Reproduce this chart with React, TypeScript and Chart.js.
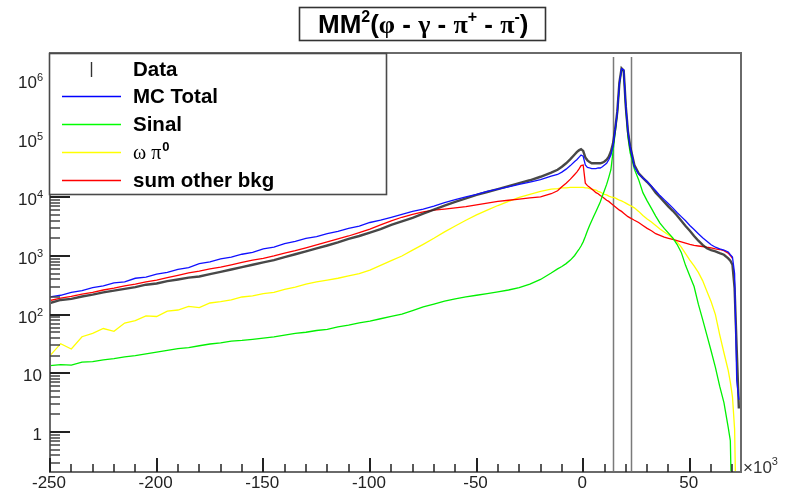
import React, { useEffect, useRef } from "react";
import { Chart, registerables } from "chart.js";

Chart.register(...registerables);

// bin centres (x 10^3)
const xBins: number[] = [
  -250, -245, -240, -235, -230, -225, -220, -215, -210, -205,
  -200, -195, -190, -185, -180, -175, -170, -165, -160, -155,
  -150, -145, -140, -135, -130, -125, -120, -115, -110, -105,
  -100, -95, -90, -85, -80, -75, -70, -65, -60, -55,
  -50, -45, -40, -35, -30, -25, -20, -15,
  -12, -10, -8, -6, -4, -3, -2, -1,
  0, 1, 2, 3, 4, 5, 6, 7, 8, 9,
  10, 11, 12, 13, 14, 15, 16, 17, 18, 19,
  20, 21, 22, 23, 24,
  26, 28, 30, 32, 34, 36, 38, 40, 42, 44,
  46, 48, 50, 52, 54, 56, 58, 60, 62, 64,
  66, 68,
  69, 70, 71, 72, 73,
];

const mcTotal: (number | null)[] = [
  200, 214, 240, 257, 288, 309, 347, 363, 417, 437,
  490, 525, 589, 631, 741, 794, 891, 955, 1070, 1150,
  1320, 1410, 1620, 1780, 2000, 2140, 2400, 2630, 2950, 3240,
  3720, 4070, 4570, 5130, 5750, 6310, 7080, 8130, 9120, 10200,
  11200, 12600, 13800, 15100, 16600, 18200, 20000, 22900,
  24500, 26900, 30200, 34700, 40700, 43700, 47900, 52500,
  50100, 35500, 32400, 31600, 30900, 30900, 30900, 31600, 31600, 33100,
  35500, 38000, 43700, 52500, 75900, 141000, 282000, 891000, 1550000, 1480000,
  355000, 132000, 72400, 50100, 33100,
  25100, 21400, 18600, 15500, 12900, 10700, 9120, 7760, 6610, 5500,
  4680, 3980, 3310, 2820, 2400, 2040, 1780, 1550, 1410, 1320,
  1260, 1170,
  1050, 955, 501, 7.59, 3.55,
];

const dataCounts: (number | null)[] = [
  158, 178, 186, 204, 219, 240, 257, 275, 295, 324,
  339, 372, 398, 427, 447, 490, 537, 589, 646, 708,
  776, 851, 955, 1070, 1200, 1350, 1510, 1700, 1950, 2190,
  2510, 2880, 3390, 3890, 4470, 5250, 6170, 7240, 8320, 9550,
  11000, 12300, 13800, 15500, 17400, 19500, 22400, 26300,
  29500, 33100, 38000, 44700, 53700, 58900, 63100, 66100,
  61700, 47900, 42700, 39800, 38000, 38000, 38000, 38000, 38000, 38900,
  40700, 43700, 49000, 60300, 83200, 145000, 288000, 912000, 1580000, 1450000,
  347000, 132000, 74100, 51300, 35500,
  25700, 21400, 18200, 15100, 12000, 10000, 8320, 6920, 5890, 4900,
  3980, 3240, 2690, 2190, 1820, 1550, 1350, 1260, 1200, 1120,
  1050, 912,
  832, 708, 282, 25.1, 2.51,
];

const sinal: (number | null)[] = [
  13.5, 14.1, 13.8, 15.5, 15.8, 17.0, 17.8, 19.1, 20.0, 21.4,
  22.9, 24.5, 26.3, 27.5, 29.5, 31.6, 33.1, 35.5, 36.3, 38.0,
  39.8, 41.7, 44.7, 47.9, 50.1, 53.7, 56.2, 61.7, 66.1, 72.4,
  77.6, 85.1, 93.3, 102, 117, 135, 151, 170, 186, 200,
  214, 229, 245, 263, 288, 331, 398, 513,
  603, 661, 741, 851, 1020, 1150, 1290, 1480,
  1740, 2140, 2690, 3310, 3980, 4790, 5750, 6920, 8320, 10500,
  13200, 16600, 21900, 29500, 60300, 126000, 263000, 851000, 1510000, 1410000,
  316000, 105000, 57500, 41700, 30200,
  20000, 12000, 8710, 6460, 4790, 3630, 2950, 2450, 2040, 1580,
  1150, 692, 457, 302, 151, 83.2, 44.7, 24.0, 12.6, 6.03,
  3.16, 1.2,
  0.71, 0.01, null, null, null,
];

const omegaPi0: (number | null)[] = [
  20, 32, 26, 42, 48, 58, 52, 72, 79, 95,
  93, 115, 120, 138, 132, 158, 166, 178, 200, 209,
  229, 240, 269, 295, 331, 363, 389, 417, 457, 501,
  575, 692, 832, 1000, 1260, 1580, 2000, 2570, 3240, 4070,
  5010, 6030, 7240, 8510, 10000, 11200, 12600, 13800,
  14100, 14500, 14500, 14800, 14800, 14800, 14800, 14800,
  14800, 14500, 14500, 14100, 13800, 13500, 13200, 12600, 12300, 11700,
  11200, 11000, 10500, 10200, 10000, 9770, 9330, 8910, 8710, 8320,
  7940, 7590, 7240, 6920, 6610,
  5750, 4900, 4270, 3800, 3310, 2880, 2570, 2290, 2000, 1740,
  1410, 1100, 851, 676, 525, 380, 251, 166, 100, 45.7,
  22.4, 11.2,
  7.08, 3.98, 1.12, 0.01, null,
];

const otherBkg: (number | null)[] = [
  174, 191, 204, 224, 240, 263, 282, 309, 331, 363,
  389, 427, 468, 513, 550, 603, 646, 708, 776, 851,
  912, 1000, 1120, 1230, 1380, 1550, 1740, 1950, 2190, 2510,
  2880, 3390, 3980, 4570, 5130, 5620, 6030, 6310, 6610, 6920,
  7410, 7940, 8510, 8910, 9330, 9770, 10200, 11500,
  12900, 15100, 17400, 20400, 24500, 26900, 30200, 34700,
  35500, 17400, 15800, 14800, 13800, 12900, 12000, 11500, 10700, 10200,
  9550, 8910, 8510, 7940, 7410, 6920, 6460, 6030, 5750, 5370,
  5010, 4680, 4470, 4270, 4070,
  3720, 3310, 2950, 2690, 2400, 2240, 2090, 2000, 1910, 1820,
  1740, 1660, 1580, 1510, 1480, 1450, 1410, 1380, 1320, 1290,
  1230, 1120,
  1020, 912, null, null, null,
];

const cutLines: number[] = [13.9, 22.3];

const xMin = -250;
const xMax = 74;
const yMin = 0.208;
const yMax = 2.88e6;

const xTickValues: number[] = [-250, -200, -150, -100, -50, 0, 50];
const xTickLabels: string[] = ["-250", "-200", "-150", "-100", "-50", "0", "50"];
const yTickValues: number[] = [1, 10, 100, 1000, 10000, 100000, 1000000];
const yTickBase: string[] = ["1", "10", "10", "10", "10", "10", "10"];
const yTickSup: string[] = ["", "", "2", "3", "4", "5", "6"];

const legendLabels: string[] = ["Data", "MC Total", "Sinal", "ω π", "sum other bkg"];
const legendColors: string[] = ["#333333", "#0000ff", "#00ff00", "#ffff00", "#ff0000"];

const SANS = '"Liberation Sans", Arial, Helvetica, sans-serif';
const SERIF = '"Liberation Serif", "DejaVu Serif", "Times New Roman", serif';

function toPoints(vals: (number | null)[]) {
  return xBins.map((x, i) => ({ x, y: vals[i] }));
}

const rootPlugin = {
  id: "rootStyle",
  beforeDatasetsDraw(chart: any) {
    const { ctx, chartArea: a, scales } = chart;
    const xs = scales.x;
    ctx.save();
    ctx.strokeStyle = "#7a7a7a";
    ctx.lineWidth = 1.5;
    for (const v of cutLines) {
      const px = Math.round(xs.getPixelForValue(v)) + 0.5;
      ctx.beginPath();
      ctx.moveTo(px, a.top + 4);
      ctx.lineTo(px, a.bottom);
      ctx.stroke();
    }
    ctx.restore();
  },
  afterDraw(chart: any) {
    const { ctx, chartArea: a, scales } = chart;
    const xs = scales.x;
    const ys = scales.y;
    ctx.save();

    // frame
    ctx.strokeStyle = "#6a6a6a";
    ctx.lineWidth = 2;
    ctx.strokeRect(a.left, a.top, a.right - a.left, a.bottom - a.top);

    // y ticks (major decades + minor)
    for (let d = -1; d <= 6; d++) {
      for (let m = 1; m <= 9; m++) {
        const v = m * Math.pow(10, d);
        if (v < ys.min || v > ys.max) continue;
        const py = Math.round(ys.getPixelForValue(v));
        const major = m === 1;
        ctx.strokeStyle = major ? "#222" : "#444";
        ctx.lineWidth = major ? 2 : 1.5;
        ctx.beginPath();
        ctx.moveTo(a.left, py);
        ctx.lineTo(a.left + (major ? 20 : 10), py);
        ctx.stroke();
      }
    }
    // x ticks
    for (let t = -250; t <= 70; t += 10) {
      const px = Math.round(xs.getPixelForValue(t));
      const major = t % 50 === 0;
      ctx.strokeStyle = "#222";
      ctx.lineWidth = major ? 2 : 1.5;
      ctx.beginPath();
      ctx.moveTo(px, a.bottom);
      ctx.lineTo(px, a.bottom - (major ? 14 : 8));
      ctx.stroke();
    }

    // x labels
    ctx.fillStyle = "#222";
    ctx.font = `17px ${SANS}`;
    ctx.textAlign = "center";
    ctx.textBaseline = "alphabetic";
    xTickValues.forEach((v, i) => {
      ctx.fillText(xTickLabels[i], xs.getPixelForValue(v) - 1, a.bottom + 16);
    });
    // x10^3
    ctx.textAlign = "left";
    ctx.font = `17px ${SANS}`;
    ctx.fillStyle = "#333";
    ctx.fillText("×10", a.right + 2, a.bottom + 1);
    const wx = ctx.measureText("×10").width;
    ctx.font = `11px ${SANS}`;
    ctx.fillText("3", a.right + 2 + wx, a.bottom - 7);

    // y labels
    ctx.fillStyle = "#222";
    ctx.textAlign = "right";
    const rightEdge = 43;
    yTickValues.forEach((v, i) => {
      const py = ys.getPixelForValue(v);
      const sup = yTickSup[i];
      if (sup) {
        ctx.font = `11px ${SANS}`;
        ctx.fillText(sup, rightEdge, py + 1);
        const w = ctx.measureText(sup).width;
        ctx.font = `17px ${SANS}`;
        ctx.fillText(yTickBase[i], rightEdge - w, py + 8);
      } else {
        ctx.font = `17px ${SANS}`;
        ctx.fillText(yTickBase[i], rightEdge - 1, py + 8);
      }
    });

    // legend
    const lx = a.left - 1;
    const ly = a.top;
    const lw = 337;
    const lh = 141;
    ctx.fillStyle = "#ffffff";
    ctx.fillRect(lx, ly, lw, lh);
    ctx.strokeStyle = "#4a4a4a";
    ctx.lineWidth = 1.6;
    ctx.strokeRect(lx + 0.5, ly + 0.5, lw, lh);
    const rows = [69, 96, 124, 152, 180];
    ctx.textAlign = "left";
    legendLabels.forEach((label, i) => {
      const cy = rows[i];
      ctx.strokeStyle = legendColors[i];
      ctx.lineWidth = 1.4;
      ctx.beginPath();
      if (i === 0) {
        ctx.moveTo(lx + 42.5, cy - 7);
        ctx.lineTo(lx + 42.5, cy + 8);
      } else {
        ctx.moveTo(lx + 13, cy + 0.5);
        ctx.lineTo(lx + 72, cy + 0.5);
      }
      ctx.stroke();
      ctx.fillStyle = "#000";
      const tx = lx + 84;
      const by = cy + 7;
      if (i === 3) {
        ctx.font = `20px ${SERIF}`;
        ctx.fillText(label, tx, by);
        const w = ctx.measureText(label).width;
        ctx.font = `bold 13px ${SANS}`;
        ctx.fillText("0", tx + w + 1, by - 8);
      } else {
        ctx.font = `bold 20.5px ${SANS}`;
        ctx.fillText(label, tx, by);
      }
    });

    // title box
    const bx = 299, by0 = 7, bw = 246, bh = 33;
    ctx.fillStyle = "#ffffff";
    ctx.fillRect(bx, by0, bw, bh);
    ctx.strokeStyle = "#333";
    ctx.lineWidth = 1.6;
    ctx.strokeRect(bx + 0.5, by0 + 0.5, bw, bh);
    const parts: { t: string; f: string; sup?: boolean }[] = [
      { t: "MM", f: SANS },
      { t: "2", f: SANS, sup: true },
      { t: "(", f: SANS },
      { t: "φ", f: SERIF },
      { t: " - ", f: SANS },
      { t: "γ", f: SERIF },
      { t: " - ", f: SANS },
      { t: "π", f: SERIF },
      { t: "+", f: SANS, sup: true },
      { t: " - ", f: SANS },
      { t: "π", f: SERIF },
      { t: "-", f: SANS, sup: true },
      { t: ")", f: SANS },
    ];
    const base = 33;
    let cx = 318;
    ctx.fillStyle = "#000";
    for (const p of parts) {
      ctx.font = p.sup ? `bold 16px ${p.f}` : `bold 26px ${p.f}`;
      ctx.fillText(p.t, cx, p.sup ? base - 11 : base);
      cx += ctx.measureText(p.t).width;
    }

    ctx.restore();
  },
};

export default function App() {
  const canvasRef = useRef<HTMLCanvasElement | null>(null);

  useEffect(() => {
    const canvas = canvasRef.current;
    if (!canvas) return;
    const common = {
      borderWidth: 1.3,
      pointRadius: 0,
      tension: 0,
      clip: 0,
      fill: false,
    };
    const chart = new Chart(canvas, {
      type: "line",
      data: {
        datasets: [
          { ...common, label: "MC Total", data: toPoints(mcTotal), borderColor: "#1010ff" },
          { ...common, label: "Data", data: toPoints(dataCounts), borderColor: "rgba(40,40,40,0.85)", borderWidth: 2.4 },
          { ...common, label: "Sinal", data: toPoints(sinal), borderColor: "#00f000" },
          { ...common, label: "sum other bkg", data: toPoints(otherBkg), borderColor: "#ff0000" },
          { ...common, label: "ω π0", data: toPoints(omegaPi0), borderColor: "#ffff00" },
        ],
      } as any,
      options: {
        animation: false,
        responsive: false,
        maintainAspectRatio: false,
        devicePixelRatio: 1,
        layout: { padding: { left: 50, top: 53, right: 44, bottom: 24 } },
        scales: {
          x: { type: "linear", min: xMin, max: xMax, display: false },
          y: { type: "logarithmic", min: yMin, max: yMax, display: false },
        },
        plugins: {
          legend: { display: false },
          tooltip: { enabled: false },
          title: { display: false },
        },
        elements: { point: { radius: 0 } },
      } as any,
      plugins: [rootPlugin],
    });
    return () => chart.destroy();
  }, []);

  return (
    <div style={{ position: "absolute", left: 0, top: 0, width: 785, height: 496, background: "#fff" }}>
      <canvas ref={canvasRef} width={785} height={496} style={{ width: 785, height: 496, display: "block" }} />
    </div>
  );
}
